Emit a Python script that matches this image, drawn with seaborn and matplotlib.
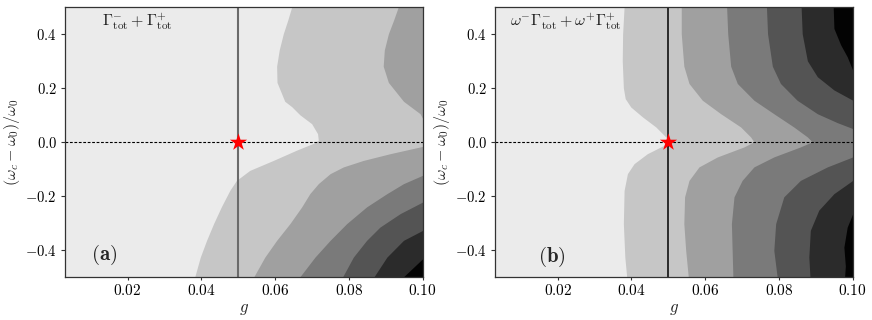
import numpy as np
import matplotlib
matplotlib.use("Agg")
import matplotlib.pyplot as plt
from matplotlib.ticker import FixedLocator, FuncFormatter
import seaborn as sns

# ---------------- data ----------------
G_LIM = (0.003, 0.100)
Y_LIM = (-0.5, 0.5)
G_MARK = 0.05
STAR_G = [0.05]
STAR_Y = [0.0]
X_TICKS = [0.02, 0.04, 0.06, 0.08, 0.10]
Y_TICKS = [-0.4, -0.2, 0.0, 0.2, 0.4]

# Panel (a): Gamma^-_tot + Gamma^+_tot  -- contour boundaries g(y), level k -> k+1
A_B1_Y = [0.50, 0.45, 0.40, 0.34, 0.28, 0.22, 0.15, 0.13, 0.10, 0.067, 0.03, 0.006, -0.005,
          -0.031, -0.069, -0.106, -0.143, -0.18, -0.241, -0.303, -0.365, -0.427, -0.50]
A_B1_G = [0.0645, 0.0634, 0.0622, 0.0611, 0.0604, 0.0605, 0.0626, 0.0645, 0.0667, 0.0699, 0.0715, 0.0717, 0.0705,
          0.0658, 0.0595, 0.0531, 0.0495, 0.0477, 0.0454, 0.0433, 0.0414, 0.0397, 0.0382]
A_B2_Y = [0.50, 0.45, 0.40, 0.34, 0.28, 0.22, 0.15, 0.104, 0.086, 0.04, 0.0, -0.017,
          -0.044, -0.069, -0.093, -0.118, -0.155, -0.192, -0.241, -0.303, -0.365, -0.427, -0.50]
A_B2_G = [0.0934, 0.0921, 0.0907, 0.0896, 0.0893, 0.0907, 0.0948, 0.0993, 0.1000, 0.106, 0.106, 0.1000,
          0.0912, 0.0839, 0.0785, 0.0749, 0.0717, 0.0694, 0.0672, 0.0640, 0.0604, 0.0572, 0.0542]
A_B3_Y = [-0.08, -0.124, -0.155, -0.192, -0.241, -0.303, -0.365, -0.427, -0.50]
A_B3_G = [0.106, 0.1000, 0.0948, 0.0903, 0.0848, 0.0794, 0.0749, 0.0708, 0.0667]
A_B4_Y = [-0.18, -0.223, -0.266, -0.316, -0.365, -0.427, -0.50]
A_B4_G = [0.106, 0.1000, 0.0939, 0.0884, 0.0848, 0.0812, 0.0783]
A_B5_Y = [-0.29, -0.328, -0.365, -0.427, -0.50]
A_B5_G = [0.106, 0.1000, 0.0948, 0.0903, 0.0868]
A_B6_Y = [-0.40, -0.433, -0.50]
A_B6_G = [0.106, 0.1000, 0.0948]

# Panel (b): w^- Gamma^-_tot + w^+ Gamma^+_tot
B_B1_Y = [0.50, 0.40, 0.30, 0.20, 0.16, 0.129, 0.092, 0.055, 0.018, 0.0,
          -0.007, -0.044, -0.081, -0.118, -0.18, -0.303, -0.427, -0.50]
B_B1_G = [0.0380, 0.0376, 0.0375, 0.0378, 0.0383, 0.0398, 0.0430, 0.0466, 0.0493, 0.0500,
          0.0497, 0.0443, 0.0407, 0.0389, 0.0380, 0.0378, 0.0382, 0.0387]
B_B2_Y = [0.50, 0.40, 0.28, 0.216, 0.154, 0.104, 0.055, 0.018, 0.0,
          -0.019, -0.056, -0.093, -0.143, -0.204, -0.303, -0.402, -0.50]
B_B2_G = [0.0535, 0.0535, 0.0542, 0.0556, 0.0592, 0.0642, 0.0696, 0.0723, 0.0732,
          0.0705, 0.0633, 0.0583, 0.0556, 0.0544, 0.0542, 0.0547, 0.0554]
B_B3_Y = [0.50, 0.40, 0.28, 0.216, 0.154, 0.104, 0.055, 0.018, 0.0,
          -0.019, -0.056, -0.093, -0.143, -0.204, -0.303, -0.402, -0.50]
B_B3_G = [0.0658, 0.0661, 0.0669, 0.0687, 0.0732, 0.0786, 0.0840, 0.0877, 0.0890,
          0.0858, 0.0786, 0.0732, 0.0700, 0.0678, 0.0671, 0.0673, 0.0675]
B_B4_Y = [0.50, 0.40, 0.28, 0.216, 0.154, 0.104, 0.071, 0.049, 0.0,
          -0.056, -0.093, -0.143, -0.204, -0.303, -0.402, -0.50]
B_B4_G = [0.0766, 0.0769, 0.0782, 0.0804, 0.0849, 0.0904, 0.0958, 0.1000, 0.106,
          0.1000, 0.0931, 0.0858, 0.0813, 0.0791, 0.0786, 0.0795]
B_B5_Y = [0.50, 0.40, 0.30, 0.241, 0.192, 0.154, 0.0,
          -0.143, -0.192, -0.253, -0.328, -0.427, -0.50]
B_B5_G = [0.0860, 0.0863, 0.0877, 0.0904, 0.0949, 0.1000, 0.106,
          0.1000, 0.0949, 0.0908, 0.0885, 0.0881, 0.0884]
B_B6_Y = [0.50, 0.42, 0.36, 0.315, 0.265, 0.0,
          -0.266, -0.316, -0.39, -0.46, -0.50]
B_B6_G = [0.0947, 0.0949, 0.0967, 0.0985, 0.1000, 0.106,
          0.1000, 0.0985, 0.0976, 0.0980, 0.0978]

PANEL_A = [(A_B1_Y, A_B1_G), (A_B2_Y, A_B2_G), (A_B3_Y, A_B3_G),
           (A_B4_Y, A_B4_G), (A_B5_Y, A_B5_G), (A_B6_Y, A_B6_G)]
PANEL_B = [(B_B1_Y, B_B1_G), (B_B2_Y, B_B2_G), (B_B3_Y, B_B3_G),
           (B_B4_Y, B_B4_G), (B_B5_Y, B_B5_G), (B_B6_Y, B_B6_G)]
TITLES = [r'$\Gamma^{-}_{\rm tot}+\Gamma^{+}_{\rm tot}$',
          r'$\omega^{-}\Gamma^{-}_{\rm tot}+\omega^{+}\Gamma^{+}_{\rm tot}$']
LABELS = [r'$(\mathbf{a})$', r'$(\mathbf{b})$']

# ---------------- style ----------------
sns.set_style("ticks")
plt.rcParams['mathtext.fontset'] = 'cm'
plt.rcParams['font.family'] = ['DejaVu Sans']

BAND_COLORS = ['#ebebeb', '#c6c6c6', '#a0a0a0', '#7a7a7a', '#545454', '#2b2b2b', '#030303']

fig = plt.figure(figsize=(8.72, 3.2), dpi=100)
ax_a = fig.add_axes([0.0745, 0.135, 0.4102, 0.8438])
ax_b = fig.add_axes([0.5677, 0.135, 0.4102, 0.8438])

panels = [(ax_a, PANEL_A, 0.103, 0.11, 0.08, '#6a6a6a', 1.5),
          (ax_b, PANEL_B, 0.042, 0.16, 0.073, 'black', 1.1)]

for i, (ax, bounds, tx, lx, ly, vcol, vlw) in enumerate(panels):
    ax.set_facecolor(BAND_COLORS[0])
    for k, (ys, gs) in enumerate(bounds):
        ax.fill_betweenx(ys, gs, 0.12, color=BAND_COLORS[k + 1], lw=0, zorder=1)
    ax.axvline(G_MARK, color=vcol, lw=vlw, zorder=3)
    ax.axhline(0.0, color='black', lw=0.8, ls=(0, (2.5, 1.5)), zorder=3)
    sns.scatterplot(x=STAR_G, y=STAR_Y, marker='*', s=170, color='red',
                    edgecolor='red', linewidth=0, ax=ax, zorder=5)
    ax.set_xlim(*G_LIM)
    ax.set_ylim(*Y_LIM)
    ax.xaxis.set_major_locator(FixedLocator(X_TICKS))
    ax.yaxis.set_major_locator(FixedLocator(Y_TICKS))
    ax.xaxis.set_major_formatter(FuncFormatter(lambda v, p: f'${v:.2f}$'))
    ax.yaxis.set_major_formatter(FuncFormatter(
        lambda v, p: '$' + (f'{v:.1f}' if abs(v) > 1e-9 else '0.0') + '$'))
    ax.tick_params(width=0.8, colors='#333333', labelcolor='black')
    ax.tick_params(axis='x', labelsize=11, length=2.5, pad=2.0)
    ax.tick_params(axis='y', labelsize=10.5, length=3.0, pad=3.0)
    for sp in ax.spines.values():
        sp.set_linewidth(0.9)
        sp.set_color('#333333')
        sp.set_zorder(6)
    ax.set_xlabel(r'$g$', fontsize=12, labelpad=1)
    ax.set_ylabel(r'$(\omega_c-\omega_0)/\omega_0$', fontsize=11.5, labelpad=2.5)
    ax.text(tx, 0.945, TITLES[i], transform=ax.transAxes, ha='left', va='center',
            fontsize=11.5, color='#222222', zorder=7)
    ax.text(lx, ly, LABELS[i], transform=ax.transAxes, ha='center', va='center',
            fontsize=15, zorder=7)

fig.savefig('out.png', dpi=100)
